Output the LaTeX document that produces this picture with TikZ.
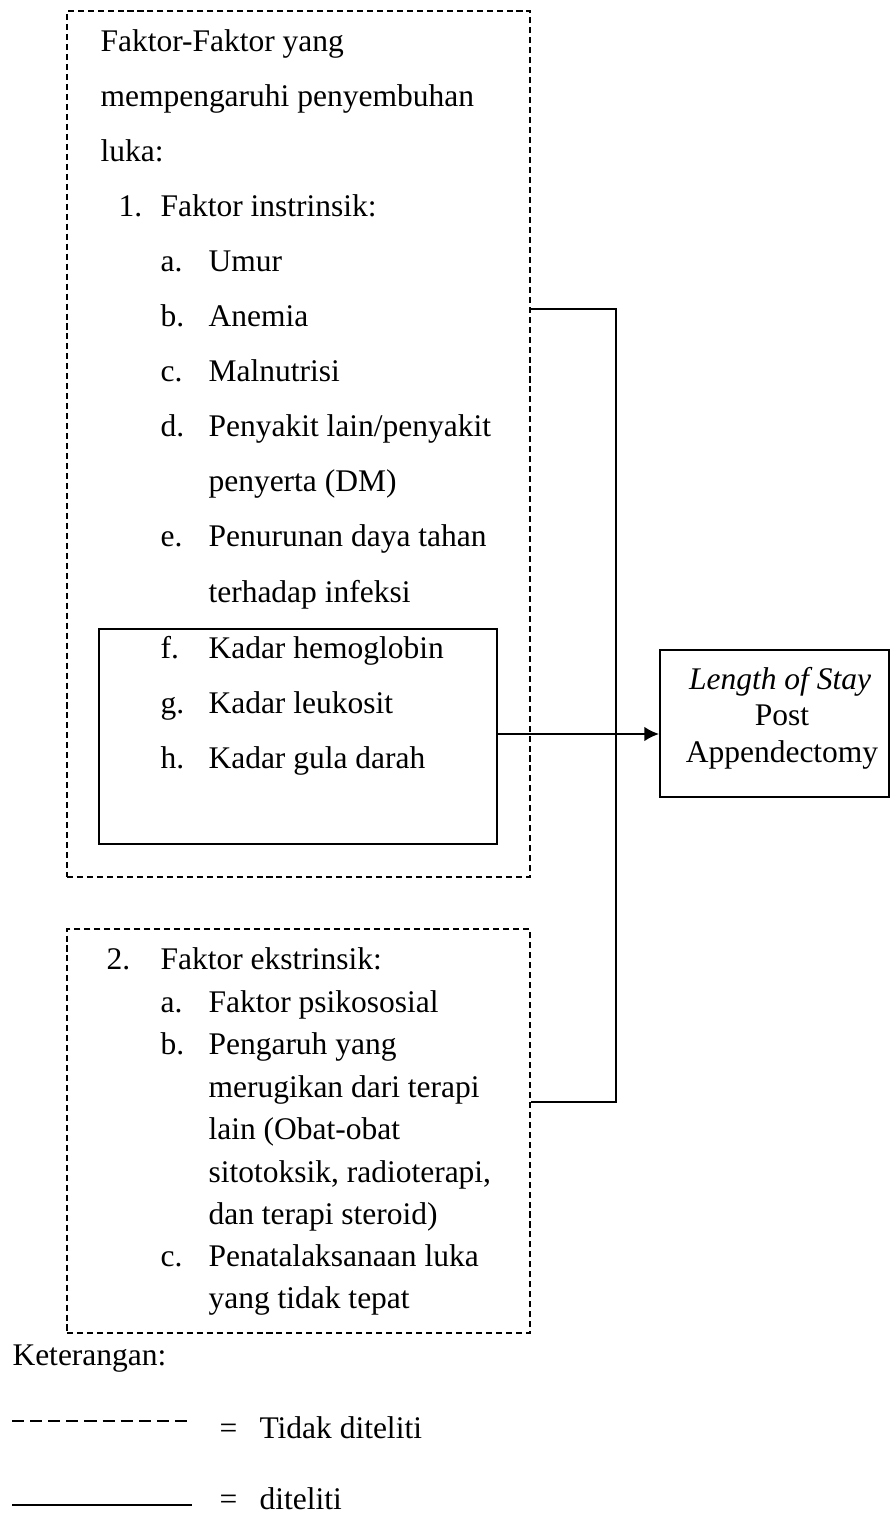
\documentclass[tikz,border=0pt]{standalone}
\usepackage{fontspec}
\setmainfont{Liberation Serif}
\usetikzlibrary{positioning,fit,arrows.meta}

\begin{document}
\begin{tikzpicture}
    [x=0.381pt,y=-0.381pt,
     every node/.style={inner sep=0pt, anchor=base west, font=\fontsize{12pt}{13.9pt}\selectfont},
     ctr/.style={anchor=base},
     dashbox/.style={draw, line width=0.5pt, dash pattern=on 2.3pt off 1.5pt, anchor=center},
     solidbox/.style={draw, line width=0.6pt, anchor=center},
     link/.style={line width=0.75pt},
     arr/.style={line width=1.1pt, -{Latex[length=5.7pt,width=5.7pt]}},
     legdash/.style={line width=0.65pt, dash pattern=on 4.6pt off 2.3pt},
     legline/.style={line width=0.75pt}]
  \useasboundingbox (0,0) rectangle (891,1514);

  \node[dashbox, fit={(67,11) (530,877)}] (intr) {};
  \node[solidbox, fit={(99,629) (497,844)}] (hasil) {};
  \node[dashbox, fit={(67,929) (530,1333)}] (ekst) {};
  \node[solidbox, fit={(660,650) (889,797)}] (los) {};

  \node (t1) at (100,52) {Faktor-Faktor yang};
  \node (t2) at (100,107) {mempengaruhi penyembuhan};
  \node (t3) at (100,162) {luka:};
  \node (n1) at (118,217) {1.};
  \node (n1t) at (160,217) {Faktor instrinsik:};

  \foreach \y/\lbl [count=\i] in {272/a., 327/b., 382/c., 437/d., 547/e., 658/f., 713/g., 768/h.}
    \node (il\i) at (160,\y) {\lbl};
  \foreach \y/\txt [count=\i] in {272/Umur, 327/Anemia, 382/Malnutrisi, 437/{Penyakit lain/penyakit},
      492/{penyerta (DM)}, 547/Penurunan daya tahan, 602/terhadap infeksi,
      658/Kadar hemoglobin, 713/Kadar leukosit, 768/Kadar gula darah}
    \node (it\i) at (208,\y) {\txt};

  \node (n2) at (106,969) {2.};
  \node (n2t) at (160,969) {Faktor ekstrinsik:};
  \foreach \y/\lbl [count=\i] in {1012/a., 1054/b., 1266/c.}
    \node (el\i) at (160,\y) {\lbl};
  \foreach \y/\txt [count=\i] in {1012/Faktor psikososial, 1054/Pengaruh yang, 1097/merugikan dari terapi,
      1139/lain (Obat-obat, 1182/{sitotoksik, radioterapi,}, 1224/dan terapi steroid),
      1266/Penatalaksanaan luka, 1308/yang tidak tepat}
    \node (et\i) at (208,\y) {\txt};

  \node[ctr] (los1) at (780,689) {\textit{Length of Stay}};
  \node[ctr] (los2) at (782,725) {Post};
  \node[ctr] (los3) at (782,762) {Appendectomy};

  \coordinate (j1) at (616,309);
  \coordinate (j2) at (616,1102);
  \coordinate (a1) at (0,734);
  \draw[link] (intr.east |- j1) -- (j1) -- (j2) -- (ekst.east |- j2);
  \draw[arr] (hasil.east |- a1) -- (los.west |- a1);

  \node (ket) at (12,1365) {Keterangan:};
  \coordinate (l1a) at (12,1421);
  \coordinate (l1b) at (192,1421);
  \draw[legdash] (l1a) -- (l1b);
  \node (eq1) at (219,1438) {=};
  \node (ket1) at (259,1438) {Tidak diteliti};
  \coordinate (l2a) at (12,1505);
  \coordinate (l2b) at (192,1505);
  \draw[legline] (l2a) -- (l2b);
  \node (eq2) at (219,1509) {=};
  \node (ket2) at (259,1509) {diteliti};
\end{tikzpicture}
\end{document}
